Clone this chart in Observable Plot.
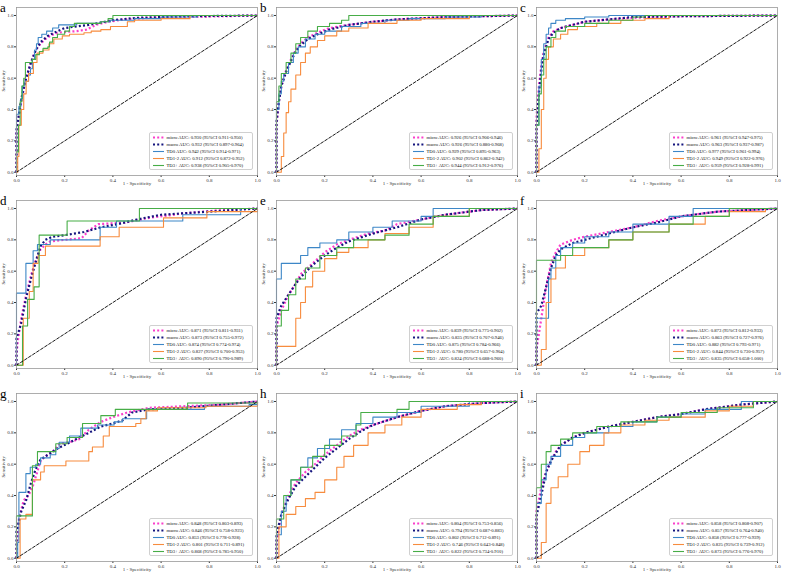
<!DOCTYPE html>
<html><head><meta charset="utf-8">
<script src="https://cdn.jsdelivr.net/npm/d3@7"></script>
<script src="https://cdn.jsdelivr.net/npm/@observablehq/plot@0.6"></script>
<style>
body{margin:0;background:#fff;}
#wrap{position:relative;width:790px;height:573px;font-family:"Liberation Serif",serif;overflow:hidden;}
.panel{position:absolute;width:260px;height:193px;}
.panel svg{position:absolute;left:0;top:0;}
.letter{position:absolute;left:0px;top:0px;font-size:13px;line-height:normal;color:#000;font-family:"Liberation Serif",serif;}
.legend{position:absolute;left:149px;top:132px;width:104px;height:38px;border:0.6px solid #d0d0d0;border-radius:2px;background:rgba(255,255,255,0.85);box-sizing:border-box;padding-top:0.5px;}
.row{display:flex;align-items:center;height:7px;font-size:4.7px;color:#111;white-space:nowrap;}
.row svg{position:static;margin-left:2.5px;margin-right:3px;}
</style>
</head><body>
<div id="wrap"></div>
<script>
// ---------- data ----------
const panelLetters = ["a","b","c","d","e","f","g","h","i"];
const seriesNames = ["micro","macro","TD0","TD1-2","TD3+"];
const tickValues = [0,0.2,0.4,0.6,0.8,1.0];
const diagonal = [[0,0],[1,1]];

// panel a
const a_micro = [[0,0],[0,0.25],[0.01,0.35],[0.02,0.45],[0.03,0.53],[0.04,0.6],[0.06,0.7],[0.08,0.78],[0.1,0.82],[0.12,0.85],[0.14,0.87],[0.17,0.89],[0.2,0.895],[0.25,0.9],[0.29,0.91],[0.33,0.94],[0.38,0.96],[0.45,0.975],[0.55,0.985],[0.7,0.99],[1,1]];
const a_macro = [[0,0],[0,0.27],[0.01,0.37],[0.02,0.47],[0.04,0.6],[0.06,0.7],[0.08,0.78],[0.1,0.83],[0.13,0.87],[0.17,0.9],[0.2,0.92],[0.3,0.94],[0.4,0.97],[0.5,0.985],[0.7,0.995],[1,1]];
const a_TD0 = [[0,0],[0,0.37],[0.01,0.42],[0.018,0.47],[0.025,0.55],[0.035,0.58],[0.05,0.62],[0.058,0.66],[0.066,0.72],[0.075,0.78],[0.083,0.82],[0.09,0.86],[0.105,0.88],[0.125,0.9],[0.15,0.92],[0.175,0.94],[0.25,0.95],[0.35,0.96],[0.39,0.97],[0.49,0.98],[0.6,0.99],[0.75,1.0],[1,1]];
const a_TD12 = [[0,0],[0.005,0.1],[0.01,0.3],[0.02,0.4],[0.03,0.5],[0.04,0.58],[0.05,0.63],[0.07,0.7],[0.085,0.76],[0.11,0.78],[0.135,0.82],[0.155,0.85],[0.19,0.87],[0.22,0.88],[0.28,0.89],[0.31,0.9],[0.35,0.91],[0.39,0.93],[0.46,0.96],[0.49,0.97],[0.6,0.98],[0.72,0.98],[0.72,1],[1,1]];
const a_TD3 = [[0,0],[0,0.13],[0.008,0.3],[0.015,0.45],[0.022,0.55],[0.03,0.6],[0.037,0.7],[0.065,0.72],[0.08,0.75],[0.095,0.77],[0.11,0.79],[0.13,0.8],[0.137,0.83],[0.15,0.86],[0.17,0.88],[0.2,0.9],[0.22,0.93],[0.24,0.95],[0.35,0.96],[0.38,0.98],[0.4,1],[1,1]];
// panel b
const b_micro = [[0,0],[0,0.3],[0.01,0.45],[0.02,0.55],[0.04,0.65],[0.06,0.72],[0.08,0.78],[0.1,0.82],[0.13,0.86],[0.17,0.89],[0.22,0.92],[0.3,0.94],[0.4,0.96],[0.5,0.975],[0.7,0.99],[1,1]];
const b_macro = [[0,0],[0,0.32],[0.01,0.45],[0.02,0.55],[0.04,0.64],[0.06,0.71],[0.08,0.77],[0.1,0.81],[0.13,0.85],[0.17,0.88],[0.22,0.91],[0.3,0.94],[0.4,0.96],[0.5,0.975],[0.7,0.99],[1,1]];
const b_TD0 = [[0,0],[0,0.4],[0.01,0.5],[0.02,0.58],[0.03,0.63],[0.05,0.7],[0.07,0.76],[0.09,0.8],[0.12,0.85],[0.16,0.88],[0.2,0.9],[0.27,0.93],[0.35,0.95],[0.45,0.97],[0.55,0.98],[0.7,0.99],[0.85,1],[1,1]];
const b_TD12 = [[0,0],[0.02,0.1],[0.03,0.25],[0.04,0.38],[0.05,0.45],[0.06,0.53],[0.08,0.62],[0.1,0.7],[0.12,0.76],[0.14,0.8],[0.17,0.84],[0.2,0.87],[0.25,0.9],[0.3,0.92],[0.38,0.95],[0.5,0.97],[0.6,0.98],[0.8,1],[1,1]];
const b_TD3 = [[0,0],[0,0.45],[0.01,0.55],[0.02,0.63],[0.04,0.7],[0.06,0.76],[0.08,0.82],[0.1,0.86],[0.13,0.9],[0.17,0.93],[0.22,0.95],[0.27,0.97],[0.3,1],[1,1]];
// panel c
const c_micro = [[0,0],[0,0.35],[0.01,0.55],[0.02,0.68],[0.03,0.77],[0.05,0.86],[0.07,0.9],[0.1,0.92],[0.15,0.94],[0.2,0.96],[0.3,0.975],[0.4,0.985],[0.6,0.995],[1,1]];
const c_macro = [[0,0],[0,0.3],[0.01,0.5],[0.02,0.65],[0.03,0.75],[0.05,0.85],[0.07,0.89],[0.1,0.92],[0.15,0.94],[0.2,0.96],[0.3,0.975],[0.4,0.99],[0.6,0.995],[1,1]];
const c_TD0 = [[0,0],[0,0.3],[0.01,0.55],[0.02,0.72],[0.03,0.82],[0.04,0.88],[0.05,0.92],[0.06,0.95],[0.08,0.97],[0.12,0.98],[0.2,0.99],[0.3,1],[1,1]];
const c_TD12 = [[0,0],[0.01,0.15],[0.02,0.4],[0.03,0.6],[0.04,0.72],[0.05,0.8],[0.07,0.85],[0.1,0.88],[0.13,0.91],[0.17,0.93],[0.25,0.95],[0.35,0.97],[0.45,0.98],[0.55,1],[1,1]];
const c_TD3 = [[0,0],[0,0.3],[0.01,0.5],[0.02,0.62],[0.03,0.72],[0.04,0.8],[0.06,0.86],[0.08,0.9],[0.12,0.93],[0.2,0.95],[0.3,0.97],[0.4,0.99],[0.45,1],[1,1]];
// panel d
const d_micro = [[0,0],[0,0.07],[0.005,0.15],[0.02,0.3],[0.04,0.45],[0.06,0.57],[0.08,0.67],[0.1,0.74],[0.12,0.77],[0.14,0.79],[0.2,0.8],[0.27,0.81],[0.3,0.86],[0.34,0.9],[0.45,0.91],[0.55,0.94],[0.7,0.97],[0.85,0.99],[1,1]];
const d_macro = [[0,0],[0,0.17],[0.02,0.27],[0.04,0.43],[0.06,0.55],[0.08,0.66],[0.1,0.76],[0.12,0.8],[0.15,0.82],[0.2,0.83],[0.28,0.85],[0.35,0.88],[0.42,0.9],[0.5,0.93],[0.6,0.96],[0.8,0.98],[1,1]];
const d_TD0 = [[0,0],[0,0.46],[0.039,0.65],[0.069,0.73],[0.087,0.77],[0.14,0.8],[0.347,0.86],[0.347,0.88],[0.415,0.92],[0.69,0.96],[0.93,1],[1,1]];
const d_TD12 = [[0,0],[0.028,0],[0.028,0.3],[0.053,0.47],[0.069,0.65],[0.09,0.7],[0.12,0.76],[0.347,0.82],[0.426,0.88],[0.61,0.94],[0.79,0.98],[1,1]];
const d_TD3 = [[0,0],[0.025,0],[0.025,0.25],[0.046,0.42],[0.073,0.5],[0.094,0.83],[0.21,0.92],[0.51,1],[1,1]];
// panel e
const e_micro = [[0,0],[0,0.25],[0.02,0.35],[0.05,0.45],[0.08,0.52],[0.1,0.58],[0.15,0.65],[0.2,0.72],[0.25,0.77],[0.3,0.8],[0.38,0.84],[0.45,0.86],[0.5,0.9],[0.6,0.93],[0.7,0.96],[0.85,0.99],[1,1]];
const e_macro = [[0,0],[0,0.3],[0.02,0.38],[0.05,0.45],[0.08,0.52],[0.1,0.56],[0.15,0.64],[0.2,0.7],[0.25,0.75],[0.3,0.79],[0.4,0.84],[0.5,0.88],[0.6,0.93],[0.7,0.96],[0.85,0.99],[1,1]];
const e_TD0 = [[0,0],[0,0.55],[0.02,0.65],[0.1,0.7],[0.13,0.75],[0.18,0.78],[0.25,0.8],[0.3,0.85],[0.4,0.88],[0.48,0.92],[0.6,0.95],[0.65,1],[1,1]];
const e_TD12 = [[0,0],[0,0.12],[0.08,0.3],[0.1,0.4],[0.12,0.5],[0.15,0.6],[0.2,0.68],[0.25,0.72],[0.3,0.75],[0.38,0.8],[0.45,0.84],[0.55,0.88],[0.65,0.95],[0.8,1],[1,1]];
const e_TD3 = [[0,0],[0,0.25],[0.02,0.35],[0.05,0.45],[0.08,0.55],[0.12,0.62],[0.18,0.7],[0.25,0.75],[0.32,0.8],[0.45,0.83],[0.55,0.9],[0.65,0.95],[0.8,1],[1,1]];
// panel f
const f_micro = [[0,0],[0,0.1],[0.02,0.3],[0.04,0.5],[0.06,0.65],[0.08,0.72],[0.1,0.77],[0.15,0.8],[0.2,0.82],[0.3,0.85],[0.4,0.88],[0.5,0.92],[0.6,0.95],[0.75,0.98],[1,1]];
const f_macro = [[0,0],[0,0.33],[0.02,0.38],[0.04,0.5],[0.06,0.62],[0.08,0.7],[0.1,0.74],[0.15,0.78],[0.2,0.8],[0.3,0.84],[0.4,0.88],[0.5,0.91],[0.6,0.95],[0.75,0.98],[1,1]];
const f_TD0 = [[0,0],[0,0.3],[0.05,0.55],[0.06,0.62],[0.08,0.7],[0.1,0.75],[0.15,0.78],[0.2,0.82],[0.3,0.85],[0.4,0.9],[0.55,0.95],[0.65,1],[1,1]];
const f_TD12 = [[0,0],[0.02,0],[0.02,0.1],[0.04,0.4],[0.06,0.55],[0.08,0.62],[0.12,0.7],[0.2,0.75],[0.3,0.8],[0.4,0.85],[0.55,0.9],[0.7,0.95],[0.8,0.98],[0.95,1],[1,1]];
const f_TD3 = [[0,0],[0,0.67],[0.1,0.7],[0.15,0.75],[0.3,0.8],[0.4,0.85],[0.55,0.9],[0.65,0.95],[0.8,1],[1,1]];
// panel g
const g_micro = [[0,0],[0,0.05],[0.01,0.25],[0.03,0.37],[0.05,0.4],[0.07,0.47],[0.09,0.57],[0.1,0.62],[0.12,0.65],[0.15,0.68],[0.18,0.73],[0.22,0.74],[0.26,0.76],[0.3,0.82],[0.35,0.87],[0.4,0.9],[0.46,0.93],[0.55,0.96],[0.7,0.97],[0.85,0.98],[1,1]];
const g_macro = [[0,0],[0,0.17],[0.02,0.3],[0.04,0.37],[0.06,0.48],[0.08,0.57],[0.1,0.63],[0.13,0.66],[0.17,0.7],[0.21,0.73],[0.26,0.77],[0.3,0.8],[0.35,0.84],[0.4,0.86],[0.44,0.88],[0.48,0.93],[0.55,0.95],[0.7,0.96],[0.85,0.98],[1,1]];
const g_TD0 = [[0,0],[0.005,0.1],[0.01,0.42],[0.039,0.54],[0.057,0.58],[0.08,0.6],[0.1,0.64],[0.14,0.66],[0.163,0.7],[0.177,0.74],[0.22,0.78],[0.267,0.83],[0.336,0.85],[0.405,0.87],[0.44,0.89],[0.54,0.95],[0.78,0.97],[0.965,0.98],[1,1]];
const g_TD12 = [[0,0],[0.015,0],[0.015,0.25],[0.039,0.28],[0.066,0.5],[0.1,0.55],[0.115,0.59],[0.205,0.62],[0.3,0.68],[0.315,0.71],[0.36,0.78],[0.385,0.84],[0.495,0.86],[0.516,0.89],[0.537,0.94],[0.585,0.96],[0.786,0.97],[1,1]];
const g_TD3 = [[0,0],[0,0.27],[0.066,0.59],[0.087,0.68],[0.163,0.73],[0.21,0.77],[0.274,0.86],[0.35,0.91],[0.41,0.95],[0.71,0.99],[1,1]];
// panel h
const h_micro = [[0,0],[0,0.1],[0.02,0.28],[0.05,0.4],[0.08,0.48],[0.12,0.55],[0.16,0.6],[0.2,0.66],[0.25,0.72],[0.3,0.78],[0.35,0.82],[0.4,0.85],[0.5,0.9],[0.6,0.94],[0.7,0.97],[0.85,0.99],[1,1]];
const h_macro = [[0,0],[0,0.15],[0.02,0.28],[0.05,0.38],[0.08,0.46],[0.12,0.52],[0.16,0.58],[0.2,0.64],[0.25,0.7],[0.3,0.76],[0.35,0.81],[0.4,0.85],[0.5,0.9],[0.6,0.94],[0.7,0.97],[0.85,0.99],[1,1]];
const h_TD0 = [[0,0],[0,0.15],[0.02,0.3],[0.04,0.4],[0.06,0.5],[0.1,0.58],[0.13,0.64],[0.17,0.7],[0.22,0.76],[0.27,0.82],[0.33,0.86],[0.4,0.9],[0.5,0.93],[0.6,0.97],[0.8,1],[1,1]];
const h_TD12 = [[0,0],[0.01,0],[0.01,0.2],[0.04,0.28],[0.08,0.33],[0.12,0.38],[0.16,0.42],[0.2,0.5],[0.25,0.58],[0.28,0.65],[0.32,0.72],[0.38,0.8],[0.45,0.85],[0.52,0.9],[0.6,0.95],[0.75,0.98],[0.85,1],[1,1]];
const h_TD3 = [[0,0],[0,0.25],[0.03,0.4],[0.06,0.5],[0.1,0.58],[0.15,0.65],[0.2,0.72],[0.27,0.78],[0.33,0.85],[0.35,0.93],[0.5,0.95],[0.55,1],[1,1]];
// panel i
const i_micro = [[0,0],[0,0.3],[0.02,0.45],[0.04,0.55],[0.06,0.62],[0.08,0.68],[0.1,0.72],[0.15,0.77],[0.2,0.8],[0.3,0.84],[0.4,0.87],[0.5,0.9],[0.6,0.92],[0.7,0.95],[0.85,0.98],[1,1]];
const i_macro = [[0,0],[0,0.27],[0.02,0.4],[0.04,0.55],[0.06,0.62],[0.08,0.67],[0.1,0.72],[0.15,0.77],[0.2,0.8],[0.3,0.84],[0.4,0.87],[0.5,0.9],[0.6,0.92],[0.7,0.95],[0.85,0.98],[1,1]];
const i_TD0 = [[0,0],[0,0.35],[0.02,0.5],[0.04,0.6],[0.06,0.65],[0.1,0.72],[0.15,0.77],[0.2,0.8],[0.3,0.84],[0.4,0.87],[0.5,0.9],[0.6,0.92],[0.7,0.95],[0.85,1],[1,1]];
const i_TD12 = [[0,0],[0.02,0],[0.02,0.1],[0.04,0.35],[0.06,0.45],[0.09,0.52],[0.13,0.6],[0.18,0.68],[0.22,0.72],[0.28,0.8],[0.35,0.85],[0.45,0.88],[0.55,0.9],[0.7,0.94],[0.8,0.97],[0.9,1],[1,1]];
const i_TD3 = [[0,0],[0,0.45],[0.02,0.6],[0.04,0.68],[0.06,0.72],[0.1,0.76],[0.15,0.8],[0.25,0.84],[0.35,0.87],[0.5,0.9],[0.6,0.93],[0.75,0.96],[0.9,1],[1,1]];

// legend labels per panel (micro, macro, TD0, TD1-2, TD3+)
const a_labels = ["micro AUC: 0.930 (95%CI 0.911-0.950)","macro AUC: 0.932 (95%CI 0.897-0.964)","TD0 AUC: 0.942 (95%CI 0.914-0.971)","TD1-2 AUC: 0.912 (95%CI 0.872-0.952)","TD3+ AUC: 0.938 (95%CI 0.905-0.970)"];
const b_labels = ["micro AUC: 0.926 (95%CI 0.906-0.946)","macro AUC: 0.926 (95%CI 0.880-0.968)","TD0 AUC: 0.929 (95%CI 0.895-0.963)","TD1-2 AUC: 0.902 (95%CI 0.862-0.942)","TD3+ AUC: 0.944 (95%CI 0.912-0.976)"];
const c_labels = ["micro AUC: 0.961 (95%CI 0.947-0.975)","macro AUC: 0.963 (95%CI 0.937-0.987)","TD0 AUC: 0.977 (95%CI 0.961-0.994)","TD1-2 AUC: 0.949 (95%CI 0.922-0.976)","TD3+ AUC: 0.959 (95%CI 0.928-0.991)"];
const d_labels = ["micro AUC: 0.871 (95%CI 0.811-0.931)","macro AUC: 0.873 (95%CI 0.755-0.972)","TD0 AUC: 0.874 (95%CI 0.774-0.974)","TD1-2 AUC: 0.827 (95%CI 0.700-0.953)","TD3+ AUC: 0.890 (95%CI 0.790-0.989)"];
const e_labels = ["micro AUC: 0.839 (95%CI 0.775-0.902)","macro AUC: 0.835 (95%CI 0.707-0.946)","TD0 AUC: 0.875 (95%CI 0.784-0.966)","TD1-2 AUC: 0.780 (95%CI 0.657-0.904)","TD3+ AUC: 0.824 (95%CI 0.688-0.960)"];
const f_labels = ["micro AUC: 0.873 (95%CI 0.812-0.933)","macro AUC: 0.863 (95%CI 0.727-0.976)","TD0 AUC: 0.882 (95%CI 0.793-0.971)","TD1-2 AUC: 0.844 (95%CI 0.730-0.957)","TD3+ AUC: 0.835 (95%CI 0.658-1.000)"];
const g_labels = ["micro AUC: 0.848 (95%CI 0.803-0.893)","macro AUC: 0.846 (95%CI 0.758-0.923)","TD0 AUC: 0.853 (95%CI 0.778-0.928)","TD1-2 AUC: 0.801 (95%CI 0.711-0.891)","TD3+ AUC: 0.868 (95%CI 0.785-0.950)"];
const h_labels = ["micro AUC: 0.804 (95%CI 0.753-0.856)","macro AUC: 0.794 (95%CI 0.687-0.883)","TD0 AUC: 0.802 (95%CI 0.712-0.891)","TD1-2 AUC: 0.746 (95%CI 0.643-0.848)","TD3+ AUC: 0.822 (95%CI 0.734-0.910)"];
const i_labels = ["micro AUC: 0.858 (95%CI 0.808-0.907)","macro AUC: 0.857 (95%CI 0.764-0.940)","TD0 AUC: 0.858 (95%CI 0.777-0.939)","TD1-2 AUC: 0.825 (95%CI 0.739-0.912)","TD3+ AUC: 0.873 (95%CI 0.776-0.970)"];

// ---------- styling ----------
const COLORS = {micro:"#fa3fcb", macro:"#15157e", TD0:"#3d87c7", TD12:"#f78c3e", TD3:"#47ad47"};

const panels = [
  {micro:a_micro,macro:a_macro,TD0:a_TD0,TD12:a_TD12,TD3:a_TD3,labels:a_labels},
  {micro:b_micro,macro:b_macro,TD0:b_TD0,TD12:b_TD12,TD3:b_TD3,labels:b_labels},
  {micro:c_micro,macro:c_macro,TD0:c_TD0,TD12:c_TD12,TD3:c_TD3,labels:c_labels},
  {micro:d_micro,macro:d_macro,TD0:d_TD0,TD12:d_TD12,TD3:d_TD3,labels:d_labels},
  {micro:e_micro,macro:e_macro,TD0:e_TD0,TD12:e_TD12,TD3:e_TD3,labels:e_labels},
  {micro:f_micro,macro:f_macro,TD0:f_TD0,TD12:f_TD12,TD3:f_TD3,labels:f_labels},
  {micro:g_micro,macro:g_macro,TD0:g_TD0,TD12:g_TD12,TD3:g_TD3,labels:g_labels},
  {micro:h_micro,macro:h_macro,TD0:h_TD0,TD12:h_TD12,TD3:h_TD3,labels:h_labels},
  {micro:i_micro,macro:i_macro,TD0:i_TD0,TD12:i_TD12,TD3:i_TD3,labels:i_labels}
];

const fmt = d3.format(".1f");
const X = d => d[0], Y = d => d[1];
const dotted = {strokeWidth:2.2, strokeDasharray:"2,2.2", strokeLinecap:"butt"};

function makePlot(p){
  return Plot.plot({
    width:260, height:193,
    marginLeft:16, marginRight:3, marginTop:7, marginBottom:18,
    style:{fontFamily:"'Liberation Serif', serif", fontSize:"5px", color:"#333", background:"transparent", overflow:"visible"},
    x:{domain:[0,1], ticks:tickValues, tickFormat:fmt, tickSize:2, tickPadding:1, label:null},
    y:{domain:[-0.021,1.051], ticks:tickValues, tickFormat:fmt, tickSize:2, tickPadding:1, label:null},
    marks:[
      Plot.line(p.micro,{x:X,y:Y,stroke:COLORS.micro,...dotted}),
      Plot.line(p.macro,{x:X,y:Y,stroke:COLORS.macro,...dotted}),
      Plot.line(p.TD0,{x:X,y:Y,stroke:COLORS.TD0,strokeWidth:1.1,curve:"step-after"}),
      Plot.line(p.TD12,{x:X,y:Y,stroke:COLORS.TD12,strokeWidth:1.1,curve:"step-after"}),
      Plot.line(p.TD3,{x:X,y:Y,stroke:COLORS.TD3,strokeWidth:1.1,curve:"step-after"}),
      Plot.line(diagonal,{x:X,y:Y,stroke:"#000",strokeWidth:0.9,strokeDasharray:"3,1.8"}),
      Plot.frame({stroke:"#9a9a9a",strokeWidth:0.8}),
      Plot.text(["1 - Specificity"],{text:d=>d,frameAnchor:"bottom",dy:9,fontSize:5,fill:"#333"}),
      Plot.text(["Sensitivity"],{text:d=>d,frameAnchor:"left",dx:-13,rotate:-90,fontSize:5,fill:"#333"})
    ]
  });
}

const wrap = document.getElementById("wrap");
const legendColors = [COLORS.micro, COLORS.macro, COLORS.TD0, COLORS.TD12, COLORS.TD3];
panels.forEach((p, idx) => {
  const col = idx % 3, row = Math.floor(idx / 3);
  const div = document.createElement("div");
  div.className = "panel";
  div.style.left = (col * 260) + "px";
  div.style.top = (row * 193) + "px";
  div.appendChild(makePlot(p));
  const lg = document.createElement("div");
  lg.className = "legend";
  p.labels.forEach((lab, k) => {
    const r = document.createElement("div");
    r.className = "row";
    const dash = k < 2 ? `stroke-width="2.2" stroke-dasharray="2,2.2"` : `stroke-width="1.1"`;
    r.innerHTML = `<svg width="11" height="7"><line x1="0" x2="11" y1="3.5" y2="3.5" stroke="${legendColors[k]}" ${dash}/></svg><span>${lab}</span>`;
    lg.appendChild(r);
  });
  div.appendChild(lg);
  const letter = document.createElement("div");
  letter.className = "letter";
  letter.textContent = panelLetters[idx];
  div.appendChild(letter);
  wrap.appendChild(div);
});
</script>
</body></html>
